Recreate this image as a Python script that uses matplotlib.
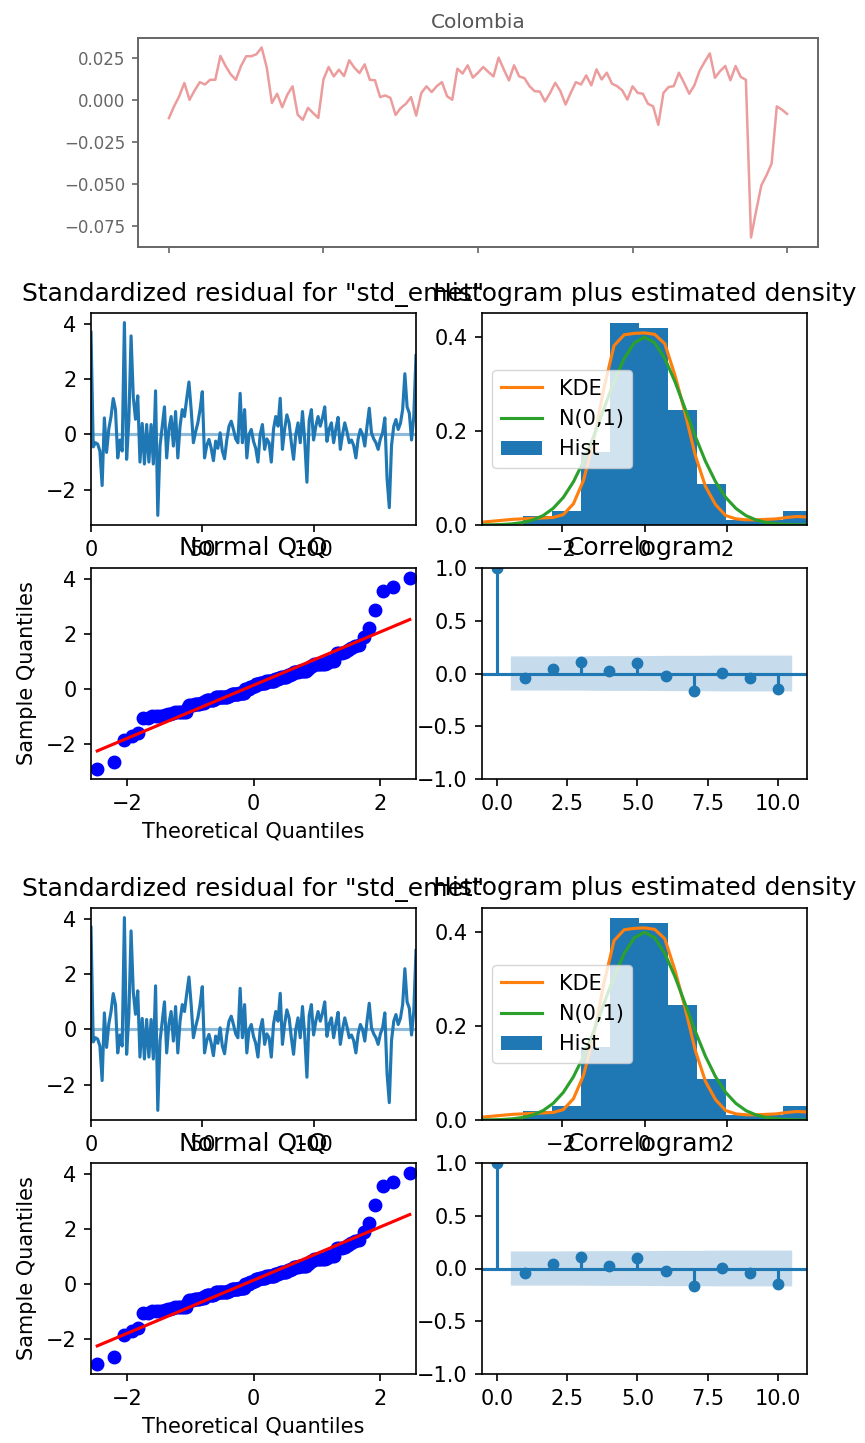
import matplotlib
matplotlib.use("Agg")
import matplotlib.pyplot as plt
import numpy as np
from statistics import NormalDist

# Colombia series (top panel)
colombia = [
    -0.011, -0.004, 0.002, 0.0099, -0.0001, 0.0055, 0.0104, 0.009, 0.0118, 0.0118,
    0.026, 0.020, 0.015, 0.0118, 0.020, 0.0258, 0.0258, 0.027, 0.031, 0.019,
    -0.002, 0.0035, -0.0045, 0.003, 0.0079, -0.009, -0.012, -0.0049, -0.008, -0.0109,
    0.012, 0.0194, 0.0138, 0.0178, 0.014, 0.0234, 0.019, 0.0158, 0.021, 0.0118,
    0.0115, 0.0015, 0.0025, 0.001, -0.0091, -0.005, -0.0025, 0.0015, -0.0095, 0.004,
    0.0079, 0.0045, 0.008, 0.0104, 0.002, -0.0001, 0.0184, 0.0155, 0.0204, 0.0131,
    0.016, 0.0194, 0.0165, 0.0138, 0.025, 0.018, 0.0114, 0.0204, 0.0138, 0.0128,
    0.008, 0.005, 0.0048, -0.0011, 0.004, 0.010, 0.005, -0.0029, 0.004, 0.0104,
    0.009, 0.0144, 0.0085, 0.018, 0.012, 0.016, 0.0095, 0.008, 0.0055, 0.0,
    0.0079, 0.004, 0.0035, -0.0025, -0.004, -0.015, 0.004, 0.0075, 0.008, 0.016,
    0.010, 0.0035, 0.0085, 0.017, 0.0225, 0.0275, 0.013, 0.017, 0.020, 0.0115,
    0.020, 0.0135, 0.0118, -0.082, -0.066, -0.051, -0.045, -0.038, -0.004, -0.006,
    -0.0085,
]
colombia_xticks = [0, 30, 60, 90, 120]

# standardized residuals for "std_emet"
resid = [
    3.70, -0.45, -0.30, -0.35, -0.60, -1.85, 0.60, -0.65, 0.20, 0.65,
    1.30, 0.90, -0.85, -0.20, -0.60, 4.05, -0.90, 0.50, 3.57, 1.35,
    0.55, 1.40, -1.00, 0.40, -1.07, 0.36, -1.00, 0.36, -1.07, 1.58,
    -2.93, -0.42, 0.30, 1.00, -0.85, 0.20, 0.65, -0.42, 0.83, -0.85,
    0.30, 0.90, 0.65, 1.30, 1.90, 0.90, -0.30, 0.10, 0.42, 0.90,
    1.55, -0.85, -0.40, -0.18, -0.50, -0.95, -0.24, -0.50, 0.06, -0.60,
    -0.88, -0.20, 0.30, 0.48, 0.18, -0.16, -0.30, 1.49, -0.30, 0.90,
    -0.85, 0.00, 0.18, -0.25, -0.50, -1.00, 0.00, 0.36, -0.54, -0.16,
    -0.30, -1.00, 0.20, 0.65, 0.30, 1.31, -0.54, 0.20, 0.71, 0.42,
    -0.30, -0.90, 0.00, 0.42, -0.30, 0.83, -0.20, -1.73, 0.50, 0.90,
    -0.20, 0.30, 0.65, 0.30, 0.60, 1.00, -0.25, 0.20, 0.42, -0.30,
    0.20, 0.62, -0.54, 0.00, 0.42, 0.10, -0.30, -0.20, -0.40, -0.85,
    -0.16, 0.18, 0.00, -0.42, 0.30, 0.95, 0.06, -0.16, -0.30, -0.54,
    -0.16, 0.06, 0.60, -1.60, -2.65, -0.40, 0.30, 0.54, 0.18, 0.40,
    0.90, 2.20, 1.00, 0.77, -0.20, 0.65, 2.86,
]

# density curves in the histogram panel
dens_x = [-3.92, -3.675, -3.43, -3.185, -2.94, -2.695, -2.45, -2.205, -1.96, -1.715,
          -1.47, -1.225, -0.98, -0.735, -0.49, -0.245, 0.0, 0.245, 0.49, 0.735,
          0.98, 1.225, 1.47, 1.715, 1.96, 2.205, 2.45, 2.695, 2.94, 3.185,
          3.43, 3.675, 3.92]
kde_y = [0.006, 0.008, 0.010, 0.012, 0.013, 0.014, 0.015, 0.016, 0.022, 0.045,
         0.095, 0.180, 0.290, 0.381, 0.404, 0.407, 0.408, 0.405, 0.385, 0.318,
         0.238, 0.148, 0.082, 0.043, 0.020, 0.013, 0.011, 0.011, 0.012, 0.013,
         0.016, 0.018, 0.017]
norm_y = [0.0002, 0.0005, 0.0011, 0.0025, 0.0053, 0.0106, 0.0198, 0.0352, 0.0584, 0.0917,
          0.1354, 0.1884, 0.2468, 0.3045, 0.3538, 0.3871, 0.3989, 0.3871, 0.3538, 0.3045,
          0.2468, 0.1884, 0.1354, 0.0917, 0.0584, 0.0352, 0.0198, 0.0106, 0.0053, 0.0025,
          0.0011, 0.0005, 0.0002]
hist_yticks = [0.0, 0.2, 0.4]

# correlogram
acf_lags = [0, 1, 2, 3, 4, 5, 6, 7, 8, 9, 10]
acf_vals = [1.0, -0.038, 0.042, 0.105, 0.019, 0.099, -0.022, -0.165, 0.004, -0.038, -0.143]
band_x = [0.5, 2, 3, 4, 5, 6, 7, 8, 9, 10.5]
band_half = [0.162, 0.162, 0.163, 0.165, 0.165, 0.167, 0.167, 0.170, 0.170, 0.170]

plt.rcParams.update({
    "font.size": 15,
    "axes.titlesize": 18,
    "axes.labelsize": 15,
    "legend.fontsize": 15,
    "lines.linewidth": 2.25,
    "lines.markersize": 9,
    "axes.linewidth": 1.2,
    "xtick.major.size": 5.25,
    "ytick.major.size": 5.25,
    "xtick.major.width": 1.2,
    "ytick.major.width": 1.2,
    "xtick.major.pad": 5.25,
    "ytick.major.pad": 5.25,
    "axes.titlepad": 9,
    "axes.labelpad": 6,
})

W, H = 865, 1443
fig = plt.figure(figsize=(W / 100, H / 100), dpi=100)


def box(x0, y0, x1, y1):
    return [x0 / W, 1 - y1 / H, (x1 - x0) / W, (y1 - y0) / H]


# top panel: Colombia
ax = fig.add_axes(box(138, 38, 818, 247))
ax.plot(np.arange(len(colombia)), colombia, color="#ec9c9c", lw=1.8)
ax.set_xticks(colombia_xticks)
ax.set_xticklabels([])
ax.set_title("Colombia", fontsize=14.5, color="#555555", pad=7)
ax.tick_params(labelsize=12, colors="#666666", length=4, width=1.2)
for sp in ax.spines.values():
    sp.set_color("#666666")
    sp.set_linewidth(1.4)


def diagnostics(dy):
    # standardized residual
    ax = fig.add_axes(box(91, 313 + dy, 416, 525 + dy))
    x = np.arange(len(resid))
    ax.plot(x, resid)
    ax.hlines(0, x[0], x[-1], alpha=0.5)
    ax.set_xlim(x[0], x[-1])
    ax.set_title('Standardized residual for "std_emet"')

    # histogram + densities
    ax = fig.add_axes(box(482, 313 + dy, 807, 525 + dy))
    ax.hist(resid, density=True, label="Hist", color="C0")
    ax.plot(dens_x, kde_y, color="C1", label="KDE")
    ax.plot(dens_x, norm_y, color="C2", label="N(0,1)")
    ax.set_xlim(-3.92, 3.92)
    ax.set_yticks(hist_yticks)
    handles, labels = ax.get_legend_handles_labels()
    order = [labels.index("KDE"), labels.index("N(0,1)"), labels.index("Hist")]
    ax.legend([handles[i] for i in order], [labels[i] for i in order], loc="center left")
    ax.set_title("Histogram plus estimated density")

    # normal Q-Q
    ax = fig.add_axes(box(91, 568 + dy, 416, 779 + dy))
    ys = np.sort(resid)
    n = len(ys)
    xs = np.array([NormalDist().inv_cdf(i / (n + 1)) for i in range(1, n + 1)])
    ax.set_xmargin(0.02)
    ax.plot(xs, ys, "bo")
    ax.plot(xs, xs * ys.std() + ys.mean(), "r-")
    ax.set_xlabel("Theoretical Quantiles")
    ax.set_ylabel("Sample Quantiles")
    ax.set_title("Normal Q-Q")

    # correlogram
    ax = fig.add_axes(box(482, 568 + dy, 807, 779 + dy))
    ax.vlines(acf_lags, [0], acf_vals)
    ax.axhline()
    ax.margins(0.05)
    ax.plot(acf_lags, acf_vals, marker="o", markersize=7.5, linestyle="None")
    ax.set_title("Correlogram")
    hb = np.array(band_half)
    ax.fill_between(band_x, -hb, hb, alpha=0.25)
    ax.set_ylim(-1, 1)


diagnostics(0)
diagnostics(595)

fig.savefig("out.png", dpi=100)
